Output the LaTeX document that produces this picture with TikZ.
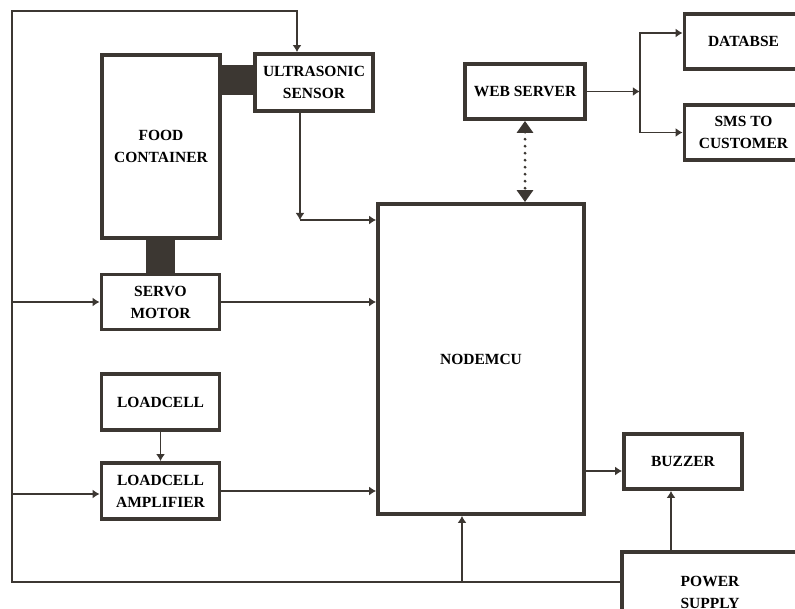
\documentclass[tikz,border=0pt]{standalone}
\usepackage{fontspec}
\setmainfont{Liberation Serif}
\usetikzlibrary{arrows.meta}
\definecolor{inkgray}{HTML}{3C3732}

\begin{document}
\begin{tikzpicture}[
  x=1pt, y=-1pt,
  box/.style={rectangle, draw=inkgray, line width=3.8pt, fill=white, align=center,
              inner sep=2pt, font=\bfseries\fontsize{15.5}{22}\selectfont},
  arr/.style={-{Latex[length=7pt, width=9pt]}, line width=1.9pt, inkgray},
  dotarr/.style={{Triangle[length=12pt, width=16pt]}-{Triangle[length=12pt, width=16pt]},
                 line width=3.2pt, inkgray, line cap=round, dash pattern=on 0pt off 7pt}]
  \path[use as bounding box, clip] (0,0) rectangle (795,609);
  % blocks
  \node[box, minimum width=118pt, minimum height=183pt] (food) at (161,146.5) {FOOD\\ CONTAINER};
  \node[box, minimum width=118pt, minimum height=57pt] (ultra) at (314,82.5) {ULTRASONIC\\ SENSOR};
  \node[box, minimum width=118pt, minimum height=55pt] (servo) at (160.5,302) {SERVO\\ MOTOR};
  \node[box, minimum width=118pt, minimum height=56pt] (loadcell) at (160.5,402) {LOADCELL};
  \node[box, minimum width=118pt, minimum height=56pt] (amp) at (160.5,491) {LOADCELL\\ AMPLIFIER};
  \node[box, minimum width=206pt, minimum height=310pt] (nodemcu) at (481,359) {NODEMCU};
  \node[box, minimum width=120pt, minimum height=55pt] (web) at (525,91.5) {WEB SERVER};
  \node[box, minimum width=118pt, minimum height=55pt] (databse) at (743.5,41.5) {DATABSE};
  \node[box, minimum width=118pt, minimum height=55pt] (sms) at (743.5,132.5) {SMS TO\\ CUSTOMER};
  \node[box, minimum width=118pt, minimum height=55pt] (buzzer) at (683,461.5) {BUZZER};
  \node[box, minimum width=176pt, minimum height=80pt] (power) at (710,592) {POWER\\ SUPPLY};
  % mounts
  \fill[inkgray] (221,65) rectangle (254,95);
  \fill[inkgray] (146,239) rectangle (175,274);
  % supply bus
  \coordinate (busL) at (12,582);
  \coordinate (busT) at (12,11);
  \draw[arr] (power.west |- busL) -- (busL) -- (busT) -| ([xshift=-17pt]ultra.north);
  \draw[arr] (busL |- servo) -- (servo);
  \draw[arr] ([yshift=-3pt]busL |- amp) -- ([yshift=-3pt]amp.west);
  \draw[arr] ([xshift=-19pt]nodemcu.south |- busL) -- ([xshift=-19pt]nodemcu.south);
  \draw[arr] ([xshift=-39pt]power.north) -- ([xshift=-12pt]buzzer.south);
  % signals
  \coordinate (ucorner) at (300,220);
  \draw[arr] ([xshift=-14pt]ultra.south) -- (ucorner);
  \draw[arr] (ucorner) -- (nodemcu.west |- ucorner);
  \draw[arr] (servo) -- (servo -| nodemcu.west);
  \draw[arr] (loadcell) -- (amp);
  \draw[arr] (amp) -- (amp -| nodemcu.west);
  \draw[arr] ([yshift=-9.5pt]buzzer.west -| nodemcu.east) -- ([yshift=-9.5pt]buzzer.west);
  \draw[dotarr] (web.south) -- (web.south |- nodemcu.north);
  \coordinate (split) at ([xshift=53pt]web.east);
  \draw[arr] (web.east) -- (split);
  \draw[arr] (split) |- ([yshift=8.5pt]databse.west);
  \draw[arr] (split) |- (sms.west);
\end{tikzpicture}
\end{document}
